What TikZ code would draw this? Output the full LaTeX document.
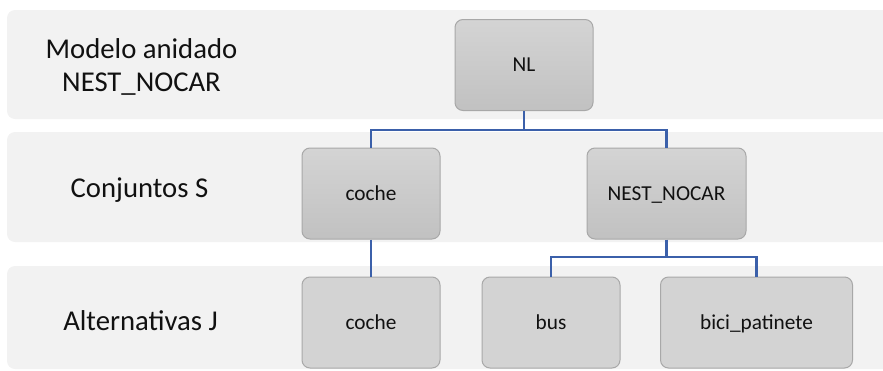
\documentclass[tikz,border=0pt]{standalone}
\usepackage{fontspec}
\setmainfont{Carlito}
\definecolor{bandfill}{HTML}{F2F2F2}
\definecolor{boxtop}{HTML}{D4D4D4}
\definecolor{boxbot}{HTML}{C1C1C1}
\definecolor{boxflat}{HTML}{D3D3D3}
\definecolor{boxline}{HTML}{A8A8A8}
\definecolor{linkblue}{RGB}{59,96,170}
\definecolor{txt}{HTML}{111111}
\begin{document}
\begin{tikzpicture}[x=1pt,y=-1pt,
  band/.style={fill=bandfill,draw=none,rounded corners=8pt},
  lbl/.style={anchor=base,text=txt,font=\fontsize{28.7}{33}\selectfont,inner sep=0pt,align=center},
  boxbase/.style={draw=boxline,line width=1pt,rounded corners=8pt,text=txt,
    font=\fontsize{21.3}{25}\selectfont,minimum height=91pt,text height=13.7pt,text depth=0pt,inner sep=0pt},
  grad/.style={boxbase,top color=boxtop,bottom color=boxbot},
  flat/.style={boxbase,fill=boxflat},
  link/.style={draw=linkblue,line width=2.6pt}]
\useasboundingbox (0,0) rectangle (883,370);
\clip (0,0) rectangle (883,370);
% bands
\path[band] (7,10) rectangle (900,119);
\path[band] (7,132) rectangle (900,242);
\path[band] (7,266) rectangle (900,369);
% labels
\node[lbl] (l1a) at (141.5,58) {Modelo anidado};
\node[lbl] (l1b) at (141.5,91) {NEST\_NOCAR};
\node[lbl] (l2) at (139.5,197) {Conjuntos S};
\node[lbl] (l3) at (140.5,330) {Alternativas J};
% connectors
\coordinate (bar1) at (0,130);
\coordinate (bar2) at (0,257);
\node[grad,minimum width=138pt] (NL) at (524,65) {NL};
\node[grad,minimum width=138pt] (cocheS) at (371,193.5) {coche};
\node[grad,minimum width=159pt] (nest) at (666.5,193.5) {NEST\_NOCAR};
\node[flat,minimum width=138pt] (cocheJ) at (371,322.5) {coche};
\node[flat,minimum width=138pt] (bus) at (551,322.5) {bus};
\node[flat,minimum width=192pt] (bici) at (756.5,322.5) {bici\_patinete};
\draw[link] (NL.south) -- (NL.south |- bar1) -| (cocheS.north);
\draw[link] (NL.south |- bar1) -| (nest.north);
\draw[link] (cocheS.south) -- (cocheJ.north);
\draw[link] (nest.south) -- (nest.south |- bar2) -| (bus.north);
\draw[link] (nest.south |- bar2) -| (bici.north);
\end{tikzpicture}
\end{document}
